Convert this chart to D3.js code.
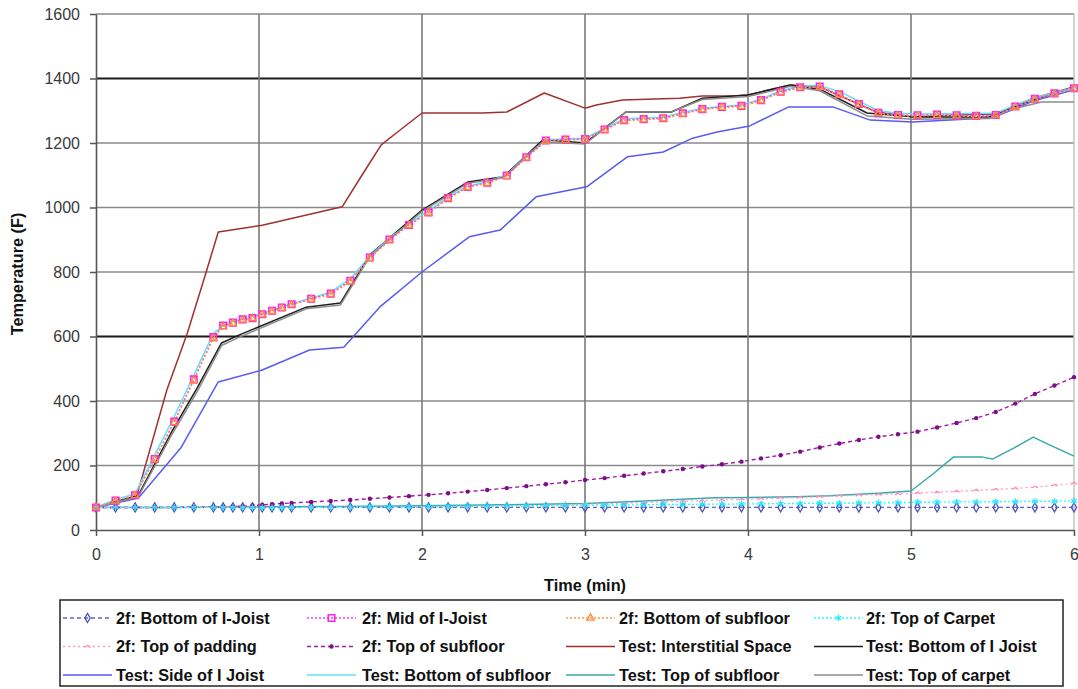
<!DOCTYPE html>
<html><head><meta charset="utf-8">
<script src="https://cdn.jsdelivr.net/npm/d3@7"></script>
<style>
html,body{margin:0;padding:0;background:#fff;}
svg{display:block;font-family:"Liberation Sans",Arial,sans-serif;}
</style></head><body>
<svg id="chart" width="1078" height="689"></svg>
<script>
// Axis ticks
const timeTicks = [0, 1, 2, 3, 4, 5, 6];
const tempTicks = [0, 200, 400, 600, 800, 1000, 1200, 1400, 1600];
const darkGridValues = [600, 1400];

// Model (2f) output times, minutes
const modelTime = [0,0.12,0.24,0.36,0.48,0.60,0.72,0.78,0.84,0.90,0.96,1.02,1.08,1.14,1.20,
  1.32,1.44,1.56,1.68,1.80,1.92,2.04,2.16,2.28,2.40,2.52,2.64,2.76,2.88,3.00,3.12,3.24,3.36,3.48,3.60,
  3.72,3.84,3.96,4.08,4.20,4.32,4.44,4.56,4.68,4.80,4.92,5.04,5.16,5.28,5.40,5.52,5.64,5.76,5.88,6.00];

const f2BottomJoist = [70,70,70,70,70,70,70,70,70,70,70,70,70,70,70,
  70,70,70,70,70,70,70,70,70,70,70,70,70,70,70,70,70,70,70,70,
  70,70,70,70,70,70,70,70,70,70,70,70,70,70,70,70,70,70,70,70];
const f2MidJoist = [70,91,108,220,336,467,598,634,643,653,657,669,680,690,700,
  717,733,773,845,901,946,985,1029,1064,1077,1099,1156,1208,1211,1212,1242,1271,1274,1277,1292,
  1305,1312,1315,1333,1359,1373,1375,1351,1321,1294,1287,1286,1288,1286,1284,1287,1313,1337,1354,1370];
const f2BottomSubfloor = [70,90,107,218,333,463,594,631,641,651,656,667,678,688,698,
  715,731,770,842,898,944,983,1027,1062,1075,1097,1153,1205,1209,1210,1240,1269,1272,1275,1290,
  1303,1310,1313,1331,1357,1371,1373,1349,1319,1292,1285,1284,1286,1284,1282,1285,1311,1335,1352,1368];
const f2TopCarpet = [70,70,70,70,70,70,70,70,70,70,70,70,70,70,70,
  70,71,71,72,72,72,73,73,74,74,75,75,76,76,77,77,78,78,79,79,
  80,80,81,81,82,82,83,83,84,84,85,86,86,87,87,88,88,89,89,90];
const f2TopPadding = [70,70,70,70,70,70,70,70,70,70,70,70,70,70,70,
  70,70,70,70,70,70,71,71,72,73,74,75,76,78,80,81,83,85,87,89,
  91,93,95,97,99,101,103,106,108,110,112,115,117,120,123,126,129,133,139,145];
const f2TopSubfloor = [70,70,70,70,70,71,71,72,73,74,76,78,80,82,84,
  87,90,93,97,101,105,109,114,119,124,130,136,142,148,155,161,168,175,182,189,
  197,204,212,222,232,243,256,268,279,289,297,305,318,332,347,366,392,422,448,474];

// Test measurements
const interstitialTime = [0,0.25,0.435,0.56,0.67,0.75,1.02,1.51,1.64,1.75,1.85,2.0,2.37,2.52,2.75,3.0,3.07,3.23,3.58,3.72,3.91,4.0,4.26,4.44,4.69,4.79,5.01,5.44,5.5,5.75,6.0];
const interstitialTemp = [70,105,435,610,790,924,945,1002,1107,1194,1234,1293,1293,1296,1355,1308,1318,1333,1339,1346,1346,1349,1380,1374,1318,1296,1281,1290,1287,1339,1374];

const bottomJoistTime = [0,0.26,0.47,0.62,0.77,0.88,1.29,1.5,1.68,2.0,2.28,2.5,2.74,2.77,3.0,3.25,3.53,3.72,4.0,4.26,4.44,4.73,5.01,5.48,5.75,6.0];
const bottomJoistTemp = [70,108,310,440,580,605,691,704,853,992,1079,1095,1209,1209,1200,1296,1296,1339,1349,1380,1367,1293,1281,1281,1333,1374];

const sideJoistTime = [0,0.26,0.52,0.75,1.02,1.31,1.52,1.74,2.0,2.29,2.48,2.7,3.01,3.26,3.48,3.66,3.81,4.01,4.25,4.52,4.75,5.01,5.5,5.75,6.0];
const sideJoistTemp = [70,99,254,459,496,558,567,691,800,909,930,1033,1064,1157,1172,1215,1234,1253,1312,1312,1271,1265,1278,1330,1365];

const bottomSubfloorTime = [0,0.12,0.24,0.36,0.48,0.60,0.72,0.80,0.90,1.02,1.20,1.32,1.44,1.56,1.68,1.80,1.92,2.04,2.16,2.28,
  2.40,2.52,2.64,2.76,3.00,3.12,3.24,3.48,3.60,3.72,3.96,4.08,4.20,4.32,4.44,4.56,4.68,4.80,4.92,5.04,5.52,5.64,5.76,5.88,6.00];
const bottomSubfloorTemp = [70,95,112,232,352,480,610,640,655,671,702,719,738,778,850,905,950,990,1032,1066,
  1080,1102,1160,1210,1215,1245,1275,1280,1295,1308,1318,1336,1362,1376,1378,1360,1330,1300,1292,1290,1292,1318,1340,1356,1372];

const topSubfloorTime = [0,0.5,1.0,1.5,2.0,2.5,3.0,3.3,3.6,3.8,4.0,4.3,4.5,4.8,5.0,5.14,5.26,5.44,5.5,5.63,5.75,5.85,6.0];
const topSubfloorTemp = [70,70,72,73,75,78,82,88,95,100,101,103,106,114,121,176,226,226,220,254,288,264,229];

const topCarpetTime = [0,0.26,0.47,0.62,0.77,0.88,1.29,1.5,1.68,2.0,2.28,2.5,2.74,3.0,3.25,3.53,3.72,4.0,4.26,4.44,4.73,5.01,5.48,5.62,5.8,6.0];
const topCarpetTemp = [70,104,300,428,572,598,686,698,848,988,1075,1092,1204,1197,1296,1297,1335,1344,1376,1362,1284,1274,1276,1305,1327,1327];

// Series table for drawing
const zip = (t, v) => t.map((d, i) => [d, v[i]]);
const series = [
  {name: "2f: Bottom of I-Joist", data: zip(modelTime, f2BottomJoist), color: "#6262cc", dash: "4,3", w: 1.3, marker: "diamond", mstroke: "#5050b8"},
  {name: "2f: Mid of I-Joist", data: zip(modelTime, f2MidJoist), color: "#ff33ff", dash: "2,2", w: 1.3, marker: "square", mstroke: "#ff22ee"},
  {name: "2f: Bottom of subfloor", data: zip(modelTime, f2BottomSubfloor), color: "#ff9944", dash: "2,2", w: 1.3, marker: "triangle", mstroke: "#ff8833"},
  {name: "2f: Top of Carpet", data: zip(modelTime, f2TopCarpet), color: "#22ffff", dash: "2,2", w: 1.3, marker: "x", mstroke: "#22e8ff"},
  {name: "2f: Top of padding", data: zip(modelTime, f2TopPadding), color: "#ff99cc", dash: "2,3", w: 1.3, marker: "dash", mstroke: "#ff88bb"},
  {name: "2f: Top of subfloor", data: zip(modelTime, f2TopSubfloor), color: "#a020a0", dash: "4,3", w: 1.4, marker: "dot", mstroke: "#7a0f86"},
  {name: "Test: Interstitial Space", data: zip(interstitialTime, interstitialTemp), color: "#a03030", w: 1.5},
  {name: "Test: Bottom of I Joist", data: zip(bottomJoistTime, bottomJoistTemp), color: "#1e1e1e", w: 1.5},
  {name: "Test: Side of I Joist", data: zip(sideJoistTime, sideJoistTemp), color: "#5a5af5", w: 1.5},
  {name: "Test: Bottom of subfloor", data: zip(bottomSubfloorTime, bottomSubfloorTemp), color: "#5fe0f5", w: 1.5},
  {name: "Test: Top of subfloor", data: zip(topSubfloorTime, topSubfloorTemp), color: "#3aa9a9", w: 1.5},
  {name: "Test: Top of carpet", data: zip(topCarpetTime, topCarpetTemp), color: "#8c8c8c", w: 1.5}
];

const svg = d3.select("#chart");
const x = d3.scaleLinear().domain([0, 6]).range([96, 1074]);
const y = d3.scaleLinear().domain([0, 1600]).range([530, 14]);

// Grid
const grid = svg.append("g");
grid.selectAll("line.h").data(tempTicks.filter(v => v > 0)).join("line")
  .attr("x1", x(0)).attr("x2", x(6)).attr("y1", d => y(d)).attr("y2", d => y(d))
  .attr("stroke", d => darkGridValues.includes(d) ? "#1a1a1a" : "#8a8a8a")
  .attr("stroke-width", d => darkGridValues.includes(d) ? 2 : 1.6);
grid.selectAll("line.v").data(timeTicks.filter(t => t > 0 && t < 6)).join("line")
  .attr("x1", d => x(d)).attr("x2", d => x(d)).attr("y1", y(0)).attr("y2", y(1600))
  .attr("stroke", "#7a7a7a").attr("stroke-width", 1.6);
grid.append("line").attr("x1", x(6)).attr("x2", x(6)).attr("y1", y(0)).attr("y2", y(1600))
  .attr("stroke", "#c4c4c4").attr("stroke-width", 1.5);

// Axes
const yAxis = svg.append("g").attr("transform", `translate(${x(0)},0)`)
  .call(d3.axisLeft(y).tickValues(tempTicks).tickSizeInner(6).tickSizeOuter(0).tickPadding(10).tickFormat(d3.format("d")));
const xAxis = svg.append("g").attr("transform", `translate(0,${y(0)})`)
  .call(d3.axisBottom(x).tickValues(timeTicks).tickSizeInner(6).tickSizeOuter(0).tickPadding(13).tickFormat(d3.format("d")));
[yAxis, xAxis].forEach(g => {
  g.select(".domain").attr("stroke", "#555").attr("stroke-width", 1.6);
  g.selectAll(".tick line").attr("stroke", "#555").attr("stroke-width", 1.5);
  g.selectAll(".tick text").attr("font-size", 16).attr("fill", "#3a3a3a")
    .attr("font-family", "Liberation Sans, Arial, sans-serif");
});

// Axis titles
svg.append("text").attr("transform", "translate(23,274) rotate(-90)")
  .attr("text-anchor", "middle").attr("font-weight", "bold").attr("font-size", 16.3).attr("fill", "#111")
  .text("Temperature (F)");
svg.append("text").attr("x", 585).attr("y", 591)
  .attr("text-anchor", "middle").attr("font-weight", "bold").attr("font-size", 16.3).attr("fill", "#111")
  .text("Time (min)");

// Marker shapes
function drawMarker(sel, s, cx, cy, scale = 1) {
  const g = sel.append("g").attr("transform", `translate(${cx},${cy})`);
  if (s.marker === "diamond") {
    g.append("path").attr("d", d3.symbol(d3.symbolDiamond, 24 * scale)()).attr("fill", "none").attr("stroke", s.mstroke).attr("stroke-width", 1.3);
  } else if (s.marker === "square") {
    g.append("path").attr("d", d3.symbol(d3.symbolSquare, 42 * scale)()).attr("fill", "none").attr("stroke", s.mstroke).attr("stroke-width", 1.6);
  } else if (s.marker === "triangle") {
    g.append("path").attr("d", d3.symbol(d3.symbolTriangle, 22 * scale)()).attr("fill", "none").attr("stroke", s.mstroke).attr("stroke-width", 1.3);
  } else if (s.marker === "x") {
    g.append("path").attr("d", d3.symbol(d3.symbolAsterisk, 30 * scale)()).attr("fill", "none").attr("stroke", s.mstroke).attr("stroke-width", 1.2);
  } else if (s.marker === "dash") {
    g.append("path").attr("d", "M-3,1L0,-1L3,1").attr("fill", "none").attr("stroke", s.mstroke).attr("stroke-width", 1.2);
  } else if (s.marker === "dot") {
    g.append("circle").attr("r", 2.2).attr("fill", s.mstroke);
  }
}

const line = d3.line().x(d => x(d[0])).y(d => y(d[1]));
const plot = svg.append("g");

// Test curves first, model curves with markers on top
const drawOrder = [6, 7, 8, 9, 10, 11, 0, 5, 4, 3, 1, 2];
drawOrder.forEach(i => {
  const s = series[i];
  plot.append("path").datum(s.data).attr("d", line)
    .attr("fill", "none").attr("stroke", s.color).attr("stroke-width", s.w)
    .attr("stroke-dasharray", s.dash || null).attr("stroke-linejoin", "round");
});
drawOrder.forEach(i => {
  const s = series[i];
  if (!s.marker) return;
  s.data.forEach(d => drawMarker(plot, s, x(d[0]), y(d[1])));
});

// Legend
const legend = svg.append("g");
legend.append("rect").attr("x", 60).attr("y", 600).attr("width", 1003).attr("height", 86)
  .attr("fill", "#fff").attr("stroke", "#222").attr("stroke-width", 1.5);
const colStart = [63, 307, 566, 814];
const colText = [116, 362, 619, 866];
const rowY = [618, 646.5, 675];
series.forEach((s, i) => {
  const c = i % 4, r = Math.floor(i / 4);
  const ly = rowY[r];
  legend.append("line").attr("x1", colStart[c]).attr("x2", colStart[c] + 49).attr("y1", ly).attr("y2", ly)
    .attr("stroke", s.color).attr("stroke-width", s.w).attr("stroke-dasharray", s.dash || null);
  if (s.marker) drawMarker(legend, s, colStart[c] + 24.5, ly);
  legend.append("text").attr("x", colText[c]).attr("y", ly + 5.5)
    .attr("font-size", 16.3).attr("font-weight", "bold").attr("fill", "#111").text(s.name);
});
</script></body></html>
